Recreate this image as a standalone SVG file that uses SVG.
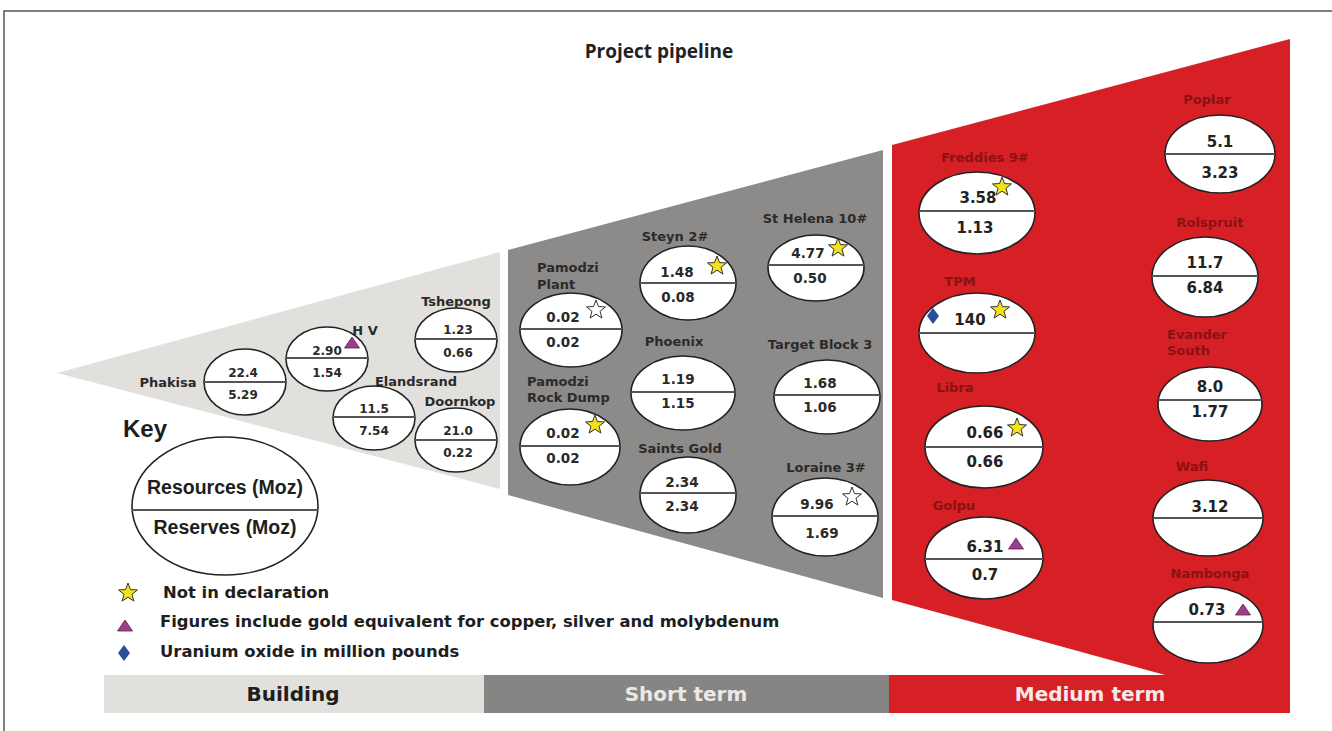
<svg xmlns="http://www.w3.org/2000/svg" width="1332" height="731" viewBox="0 0 1332 731">
  <style>
    .lbl { font-family: "DejaVu Sans", sans-serif; font-weight: 700; font-size: 13px; fill: #2a2a2a; }
    .lblr { font-family: "DejaVu Sans", sans-serif; font-weight: 700; font-size: 13px; fill: #8a1212; }
    .c { text-anchor: middle; }
    .v1 { font-family: "DejaVu Sans", sans-serif; font-weight: 700; font-size: 12px; fill: #2a2a2a; text-anchor: middle; }
    .v2 { font-family: "DejaVu Sans", sans-serif; font-weight: 700; font-size: 13.5px; fill: #2a2a2a; text-anchor: middle; }
    .v3 { font-family: "DejaVu Sans", sans-serif; font-weight: 700; font-size: 15px; fill: #222; text-anchor: middle; }
    .ell { fill: #ffffff; stroke: #222; stroke-width: 1.6; }
    .div { stroke: #555; stroke-width: 2.2; }
    .key { font-family: "Liberation Sans", Arial, sans-serif; font-weight: 700; fill: #1e1e1e; }
    .leg { font-family: "DejaVu Sans", sans-serif; font-weight: 700; font-size: 16.4px; fill: #1e1e1e; }
    .bar { font-family: "DejaVu Sans", sans-serif; font-weight: 700; font-size: 20px; text-anchor: middle; }
    .ys { fill: #f1e21a; stroke: #333; stroke-width: 1; }
    .ws { fill: #ffffff; stroke: #333; stroke-width: 1; }
    .tr { fill: #9c3e88; stroke: #5a2050; stroke-width: 0.8; }
    .dm { fill: #2b4f96; }
  </style>
  <defs>
    <path id="star" d="M0,-10 L2.48,-3.41 L9.51,-3.09 L4.01,1.3 L5.88,8.09 L0,4.2 L-5.88,8.09 L-4.01,1.3 L-9.51,-3.09 L-2.48,-3.41 Z"/>
    <path id="tri" d="M0,-6 L7.5,5 L-7.5,5 Z"/>
    <path id="dia" d="M0,-8 L6,0 L0,8 L-6,0 Z"/>
  </defs>

  <!-- frame -->
  <path d="M4,731 V11 H1332" fill="none" stroke="#555" stroke-width="1.5"/>

  <text x="659" y="58" text-anchor="middle" font-family="'Open Sans', sans-serif" font-weight="700" font-size="19" fill="#222">Project pipeline</text>

  <!-- stage bands -->
  <polygon points="57,373 500,252 500,489" fill="#e2e0dd"/>
  <polygon points="508,250 883,150 883,598 508,495" fill="#8d8b89"/>
  <polygon points="892,145 1290,39 1290,675 1165,675 892,600" fill="#d71f26"/>

  <!-- bottom bar -->
  <g id="bar">
    <rect x="104" y="675" width="380" height="38" fill="#e2e0dd"/>
    <rect x="484" y="675" width="405" height="38" fill="#878583"/>
    <rect x="889" y="675" width="401" height="38" fill="#d71f26"/>
    <text class="bar" x="293" y="701" fill="#1e1e1e">Building</text>
    <text class="bar" x="686" y="701" fill="#ebe9e6">Short term</text>
    <text class="bar" x="1090" y="701" fill="#f8e8e8">Medium term</text>
  </g>

  <!-- Building -->
  <g id="phakisa">
    <text class="lbl c" x="168" y="387">Phakisa</text>
    <ellipse class="ell" cx="245" cy="382" rx="41" ry="33"/>
    <line class="div" x1="204" y1="382" x2="286" y2="382"/>
    <text class="v1" x="243" y="377">22.4</text>
    <text class="v1" x="243" y="399">5.29</text>
  </g>
  <g id="hv">
    <text class="lbl c" x="365" y="335">H V</text>
    <ellipse class="ell" cx="327" cy="359" rx="41" ry="32"/>
    <line class="div" x1="286" y1="358" x2="368" y2="358"/>
    <text class="v1" x="327" y="355">2.90</text>
    <text class="v1" x="327" y="377">1.54</text>
    <use href="#tri" x="352" y="343" class="tr"/>
  </g>
  <g id="tshepong">
    <text class="lbl c" x="456" y="306">Tshepong</text>
    <ellipse class="ell" cx="456" cy="340" rx="41" ry="32"/>
    <line class="div" x1="415" y1="339" x2="497" y2="339"/>
    <text class="v1" x="458" y="334">1.23</text>
    <text class="v1" x="458" y="357">0.66</text>
  </g>
  <g id="elandsrand">
    <text class="lbl c" x="416" y="386">Elandsrand</text>
    <ellipse class="ell" cx="374" cy="418" rx="41" ry="32"/>
    <line class="div" x1="333" y1="417" x2="415" y2="417"/>
    <text class="v1" x="374" y="413">11.5</text>
    <text class="v1" x="374" y="435">7.54</text>
  </g>
  <g id="doornkop">
    <text class="lbl c" x="460" y="406">Doornkop</text>
    <ellipse class="ell" cx="456" cy="440" rx="41" ry="32"/>
    <line class="div" x1="415" y1="440" x2="497" y2="440"/>
    <text class="v1" x="458" y="435">21.0</text>
    <text class="v1" x="458" y="457">0.22</text>
  </g>

  <!-- Short term -->
  <g id="pamodzi-plant">
    <text class="lbl" x="537" y="272">Pamodzi</text>
    <text class="lbl" x="537" y="289">Plant</text>
    <ellipse class="ell" cx="571" cy="330" rx="51" ry="37"/>
    <line class="div" x1="520" y1="329" x2="622" y2="329"/>
    <text class="v2" x="563" y="322">0.02</text>
    <text class="v2" x="563" y="347">0.02</text>
    <use href="#star" x="596" y="310" class="ws"/>
  </g>
  <g id="pamodzi-rock">
    <text class="lbl" x="527" y="386">Pamodzi</text>
    <text class="lbl" x="527" y="402">Rock Dump</text>
    <ellipse class="ell" cx="570" cy="447" rx="50" ry="38"/>
    <line class="div" x1="520" y1="446" x2="620" y2="446"/>
    <text class="v2" x="563" y="438">0.02</text>
    <text class="v2" x="563" y="463">0.02</text>
    <use href="#star" x="595" y="425" class="ys"/>
  </g>
  <g id="steyn">
    <text class="lbl c" x="675" y="241">Steyn 2#</text>
    <ellipse class="ell" cx="688" cy="283" rx="48" ry="37"/>
    <line class="div" x1="640" y1="283" x2="736" y2="283"/>
    <text class="v2" x="677" y="277">1.48</text>
    <text class="v2" x="678" y="302">0.08</text>
    <use href="#star" x="717" y="266" class="ys"/>
  </g>
  <g id="phoenix">
    <text class="lbl c" x="674" y="346">Phoenix</text>
    <ellipse class="ell" cx="683" cy="393" rx="52" ry="37"/>
    <line class="div" x1="631" y1="392" x2="735" y2="392"/>
    <text class="v2" x="678" y="384">1.19</text>
    <text class="v2" x="678" y="408">1.15</text>
  </g>
  <g id="saints-gold">
    <text class="lbl c" x="680" y="453">Saints Gold</text>
    <ellipse class="ell" cx="688" cy="495" rx="48" ry="38"/>
    <line class="div" x1="640" y1="493" x2="736" y2="493"/>
    <text class="v2" x="682" y="487">2.34</text>
    <text class="v2" x="682" y="511">2.34</text>
  </g>
  <g id="st-helena">
    <text class="lbl c" x="815" y="223">St Helena 10#</text>
    <ellipse class="ell" cx="816" cy="268" rx="48" ry="33"/>
    <line class="div" x1="768" y1="265" x2="864" y2="265"/>
    <text class="v2" x="808" y="258">4.77</text>
    <text class="v2" x="810" y="283">0.50</text>
    <use href="#star" x="838" y="248" class="ys"/>
  </g>
  <g id="target-block">
    <text class="lbl c" x="820" y="349">Target Block 3</text>
    <ellipse class="ell" cx="827" cy="397" rx="53" ry="37"/>
    <line class="div" x1="774" y1="395" x2="880" y2="395"/>
    <text class="v2" x="820" y="388">1.68</text>
    <text class="v2" x="820" y="412">1.06</text>
  </g>
  <g id="loraine">
    <text class="lbl c" x="826" y="472">Loraine 3#</text>
    <ellipse class="ell" cx="825" cy="517" rx="53" ry="39"/>
    <line class="div" x1="772" y1="516" x2="878" y2="516"/>
    <text class="v2" x="817" y="509">9.96</text>
    <text class="v2" x="822" y="538">1.69</text>
    <use href="#star" x="852" y="497" class="ws"/>
  </g>

  <!-- Medium term, left column -->
  <g id="freddies">
    <text class="lblr c" x="985" y="162">Freddies 9#</text>
    <ellipse class="ell" cx="977" cy="213" rx="58" ry="41"/>
    <line class="div" x1="919" y1="211" x2="1035" y2="211"/>
    <text class="v3" x="978" y="203">3.58</text>
    <text class="v3" x="975" y="233">1.13</text>
    <use href="#star" x="1002" y="187" class="ys"/>
  </g>
  <g id="tpm">
    <text class="lblr c" x="960" y="286">TPM</text>
    <ellipse class="ell" cx="977" cy="333" rx="58" ry="40"/>
    <line class="div" x1="919" y1="333" x2="1035" y2="333"/>
    <use href="#dia" x="933" y="316" class="dm"/>
    <text class="v3" x="970" y="325">140</text>
    <use href="#star" x="1000" y="310" class="ys"/>
  </g>
  <g id="libra">
    <text class="lblr c" x="955" y="392">Libra</text>
    <ellipse class="ell" cx="984" cy="447" rx="59" ry="41"/>
    <line class="div" x1="925" y1="447" x2="1043" y2="447"/>
    <text class="v3" x="985" y="438">0.66</text>
    <text class="v3" x="985" y="467">0.66</text>
    <use href="#star" x="1017" y="428" class="ys"/>
  </g>
  <g id="golpu">
    <text class="lblr c" x="954" y="510">Golpu</text>
    <ellipse class="ell" cx="984" cy="558" rx="59" ry="41"/>
    <line class="div" x1="925" y1="559" x2="1043" y2="559"/>
    <text class="v3" x="985" y="552">6.31</text>
    <use href="#tri" x="1016" y="544" class="tr"/>
    <text class="v3" x="985" y="580">0.7</text>
  </g>

  <!-- Medium term, right column -->
  <g id="poplar">
    <text class="lblr c" x="1207" y="104">Poplar</text>
    <ellipse class="ell" cx="1220" cy="154" rx="55" ry="39"/>
    <line class="div" x1="1165" y1="154" x2="1275" y2="154"/>
    <text class="v3" x="1220" y="147">5.1</text>
    <text class="v3" x="1220" y="178">3.23</text>
  </g>
  <g id="rolspruit">
    <text class="lblr c" x="1210" y="227">Rolspruit</text>
    <ellipse class="ell" cx="1205" cy="277" rx="53" ry="40"/>
    <line class="div" x1="1152" y1="276" x2="1258" y2="276"/>
    <text class="v3" x="1205" y="268">11.7</text>
    <text class="v3" x="1205" y="293">6.84</text>
  </g>
  <g id="evander">
    <text class="lblr" x="1167" y="339">Evander</text>
    <text class="lblr" x="1167" y="355">South</text>
    <ellipse class="ell" cx="1210" cy="404" rx="52" ry="37"/>
    <line class="div" x1="1158" y1="400" x2="1262" y2="400"/>
    <text class="v3" x="1210" y="392">8.0</text>
    <text class="v3" x="1210" y="417">1.77</text>
  </g>
  <g id="wafi">
    <text class="lblr c" x="1192" y="471">Wafi</text>
    <ellipse class="ell" cx="1208" cy="518" rx="55" ry="38"/>
    <line class="div" x1="1153" y1="518" x2="1263" y2="518"/>
    <text class="v3" x="1210" y="512">3.12</text>
  </g>
  <g id="nambonga">
    <text class="lblr c" x="1210" y="578">Nambonga</text>
    <ellipse class="ell" cx="1208" cy="625" rx="55" ry="38"/>
    <line class="div" x1="1153" y1="622" x2="1263" y2="622"/>
    <text class="v3" x="1207" y="615">0.73</text>
    <use href="#tri" x="1243" y="610" class="tr"/>
  </g>

  <!-- Key -->
  <g id="key">
    <text class="key" x="123" y="437" font-size="24">Key</text>
    <ellipse class="ell" cx="225" cy="506" rx="93" ry="69"/>
    <line class="div" x1="132" y1="510" x2="318" y2="510"/>
    <text class="key" x="225" y="494" font-size="19.5" text-anchor="middle">Resources (Moz)</text>
    <text class="key" x="225" y="534" font-size="19.5" text-anchor="middle">Reserves (Moz)</text>
  </g>
  <g id="legend">
    <use href="#star" x="128" y="593" class="ys"/>
    <text class="leg" x="163" y="598">Not in declaration</text>
    <use href="#tri" x="125" y="626" class="tr"/>
    <text class="leg" x="160" y="627">Figures include gold equivalent for copper, silver and molybdenum</text>
    <use href="#dia" x="124" y="653" class="dm"/>
    <text class="leg" x="160" y="657">Uranium oxide in million pounds</text>
  </g>
</svg>
